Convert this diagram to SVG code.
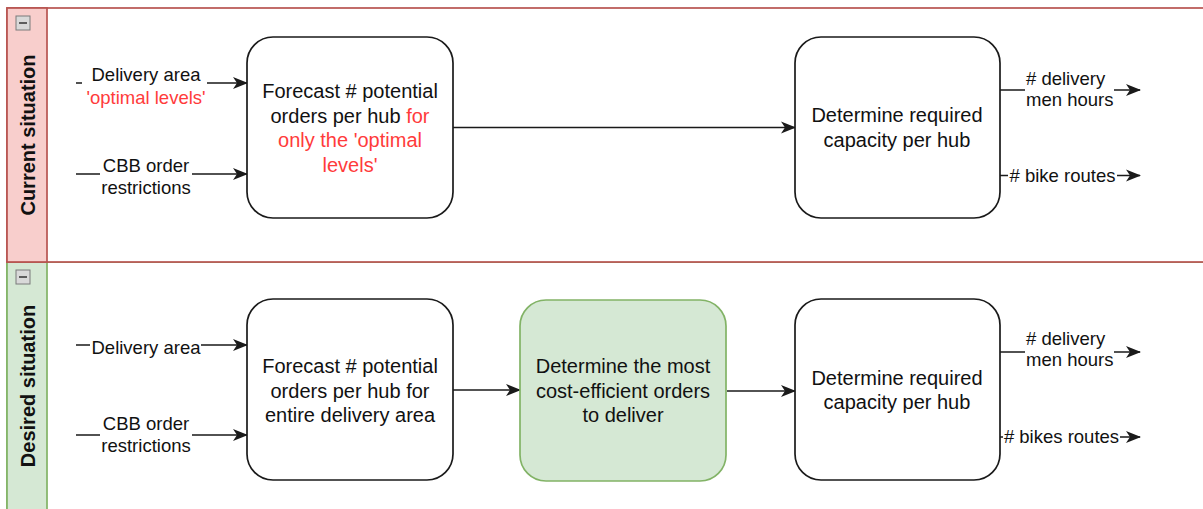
<svg xmlns="http://www.w3.org/2000/svg" width="1203" height="509" viewBox="0 0 1203 509">
  <style>
    .node { fill: #ffffff; stroke: #1a1a1a; stroke-width: 1.7; }
    .node-green { fill: #d5e8d4; stroke: #82b366; stroke-width: 1.7; }
    .ntext { font-family: "Liberation Sans", Arial, sans-serif; font-size: 20px; fill: #111111; text-anchor: middle; }
    .ltext { font-family: "Liberation Sans", Arial, sans-serif; font-size: 18.5px; fill: #111111; text-anchor: middle; }
    .lstart { text-anchor: start; }
    .red { fill: #ff3b3b; }
    .htext { font-family: "Liberation Sans", Arial, sans-serif; font-size: 20px; font-weight: bold; fill: #111111; text-anchor: middle; }
    .edge { fill: none; stroke: #1a1a1a; stroke-width: 1.7; marker-end: url(#arrow); }
    .icon { fill: #d9d9d9; stroke: #7a7a7a; stroke-width: 1; }
    .icon-bar { stroke: #333333; stroke-width: 1.5; }
  </style>
  <defs>
    <marker id="arrow" markerUnits="userSpaceOnUse" markerWidth="16" markerHeight="14" refX="14" refY="7" orient="auto">
      <path d="M0,1 L15,7 L0,13 L4,7 Z" fill="#1a1a1a"/>
    </marker>
    <linearGradient id="iconFill" x1="0" y1="0" x2="0" y2="1">
      <stop offset="0" stop-color="#f2f2f2"/>
      <stop offset="1" stop-color="#bdbdbd"/>
    </linearGradient>
  </defs>

  <!-- swimlane: desired situation -->
  <g id="lane-desired">
    <rect x="7" y="262" width="1210" height="262" fill="#ffffff" stroke="#82b366" stroke-width="1.7"/>
    <rect x="7" y="262" width="40" height="262" fill="#d5e8d4" stroke="#82b366" stroke-width="1.7"/>
    <rect class="icon" x="16" y="270" width="14" height="14" fill="url(#iconFill)"/>
    <line class="icon-bar" x1="19" y1="277" x2="27" y2="277"/>
    <text class="htext" transform="translate(35,386) rotate(-90)">Desired situation</text>
  </g>

  <!-- swimlane: current situation -->
  <g id="lane-current">
    <rect x="7" y="8" width="1210" height="254" fill="#ffffff" stroke="#b85450" stroke-width="1.7"/>
    <rect x="7" y="8" width="40" height="254" fill="#f8cecc" stroke="#b85450" stroke-width="1.7"/>
    <rect class="icon" x="16" y="16" width="14" height="14" fill="url(#iconFill)"/>
    <line class="icon-bar" x1="19" y1="23" x2="27" y2="23"/>
    <text class="htext" transform="translate(35,135) rotate(-90)">Current situation</text>
  </g>

  <!-- connectors and their labels -->
  <g id="connectors">
    <!-- current situation -->
    <path class="edge" d="M76,83 L82,83 M207,83 L247,83"/>
    <text class="ltext" x="146" y="81">Delivery area</text>
    <text class="ltext red" x="146" y="103.5">'optimal levels'</text>

    <path class="edge" d="M76,174 L100,174 M192,174 L247,174"/>
    <text class="ltext" x="146" y="172">CBB order</text>
    <text class="ltext" x="146" y="193.5">restrictions</text>

    <path class="edge" d="M453,127.5 L795,127.5"/>

    <path class="edge" d="M1000,90 L1025,90 M1114,90 L1140,90"/>
    <text class="ltext lstart" x="1026" y="84.5"># delivery</text>
    <text class="ltext lstart" x="1026" y="106">men hours</text>

    <path class="edge" d="M1000,175.5 L1008,175.5 M1117,175.5 L1140,175.5"/>
    <text class="ltext" x="1062.5" y="182"># bike routes</text>

    <!-- desired situation -->
    <path class="edge" d="M76,345 L90,345 M201,345 L247,345"/>
    <text class="ltext" x="146" y="354">Delivery area</text>

    <path class="edge" d="M76,435 L100,435 M192,435 L247,435"/>
    <text class="ltext" x="146" y="430">CBB order</text>
    <text class="ltext" x="146" y="451.5">restrictions</text>

    <path class="edge" d="M453,390 L520,390"/>
    <path class="edge" d="M727,391 L795,391"/>

    <path class="edge" d="M1000,352 L1025,352 M1114,352 L1140,352"/>
    <text class="ltext lstart" x="1026" y="344.5"># delivery</text>
    <text class="ltext lstart" x="1026" y="366">men hours</text>

    <path class="edge" d="M1000,437 L1003,437 M1120,437 L1140,437"/>
    <text class="ltext" x="1061.5" y="443"># bikes routes</text>
  </g>

  <!-- process nodes, current situation -->
  <g id="node-forecast-current">
    <rect class="node" x="247" y="37" width="206" height="181" rx="26" ry="26"/>
    <text class="ntext" x="350" y="98">Forecast # potential</text>
    <text class="ntext" x="350" y="122.5">orders per hub <tspan class="red">for</tspan></text>
    <text class="ntext red" x="350" y="147">only the 'optimal</text>
    <text class="ntext red" x="350" y="171.5">levels'</text>
  </g>

  <g id="node-capacity-current">
    <rect class="node" x="795" y="37" width="205" height="181" rx="26" ry="26"/>
    <text class="ntext" x="897" y="121.5">Determine required</text>
    <text class="ntext" x="897" y="146.5">capacity per hub</text>
  </g>

  <!-- process nodes, desired situation -->
  <g id="node-forecast-desired">
    <rect class="node" x="247" y="299" width="206" height="181" rx="26" ry="26"/>
    <text class="ntext" x="350" y="373">Forecast # potential</text>
    <text class="ntext" x="350" y="397.5">orders per hub for</text>
    <text class="ntext" x="350" y="422">entire delivery area</text>
  </g>

  <g id="node-select-orders">
    <rect class="node-green" x="520" y="300" width="206" height="181" rx="26" ry="26"/>
    <text class="ntext" x="623" y="373">Determine the most</text>
    <text class="ntext" x="623" y="397.5">cost-efficient orders</text>
    <text class="ntext" x="623" y="422">to deliver</text>
  </g>

  <g id="node-capacity-desired">
    <rect class="node" x="795" y="299" width="205" height="181" rx="26" ry="26"/>
    <text class="ntext" x="897" y="384.5">Determine required</text>
    <text class="ntext" x="897" y="409">capacity per hub</text>
  </g>
</svg>
